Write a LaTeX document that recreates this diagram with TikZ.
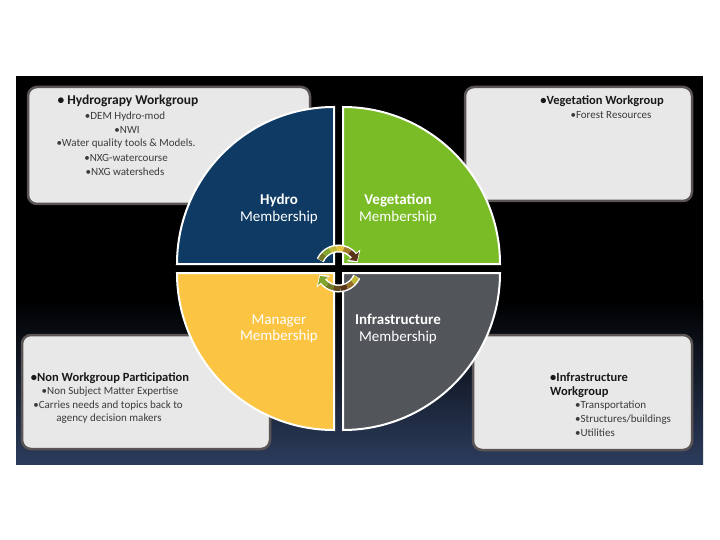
\documentclass[tikz,border=0pt]{standalone}
\usepackage{fontspec}
\setmainfont{Carlito}

\definecolor{hydroblue}{RGB}{14,58,99}
\definecolor{veggreen}{RGB}{122,188,38}
\definecolor{mgryellow}{RGB}{252,196,67}
\definecolor{infragray}{RGB}{82,85,89}
\definecolor{boxfill}{RGB}{232,232,232}
\definecolor{boxline}{RGB}{90,84,84}
\definecolor{bgnavy}{RGB}{44,60,92}
\definecolor{arcgreen}{RGB}{130,165,45}
\definecolor{arcyellow}{RGB}{232,196,64}
\definecolor{arcbrown}{RGB}{90,52,24}
\definecolor{txtdark}{RGB}{25,25,25}

\tikzset{
  wgbox/.style={fill=boxfill, draw=boxline, line width=2.5pt, rounded corners=9pt},
  quad/.style={draw=white, line width=2pt},
  qlabel/.style={text=white, font=\fontsize{15}{16.5}\selectfont, align=center, inner sep=0pt},
  wghead/.style={text=txtdark, font=\fontsize{12.5}{14}\selectfont\bfseries, inner sep=0pt, text height=9pt, text depth=2.5pt},
  wgitem/.style={text=txtdark!85, font=\fontsize{11}{13}\selectfont, inner sep=0pt, text height=8pt, text depth=2.5pt},
  arcseg/.style={line width=5pt},
}

\begin{document}
\begin{tikzpicture}[x=1pt,y=-1pt]
  \useasboundingbox (0,0) rectangle (720,540);
  \fill[white] (0,0) rectangle (720,540);
  \fill[black] (16,76) rectangle (703,464);
  \shade[top color=black, bottom color=bgnavy] (16,300) rectangle (703,464);

  % workgroup boxes
  \draw[wgbox] (28,87) rectangle (310,204);
  \draw[wgbox] (465,87) rectangle (692,201);
  \draw[wgbox] (22,335) rectangle (270,449);
  \draw[wgbox] (473,335) rectangle (692,450);

  \node[wghead, font=\fontsize{13.5}{15}\selectfont\bfseries] (hyhead) at (128,101) {• Hydrograpy Workgroup};
  \node[wgitem] (hy1) at (125,117) {•DEM Hydro-mod};
  \node[wgitem] (hy2) at (127,131) {•NWI};
  \node[wgitem] (hy3) at (126,144) {•Water quality tools \& Models.};
  \node[wgitem] (hy4) at (126,159) {•NXG-watercourse};
  \node[wgitem] (hy5) at (125,173) {•NXG watersheds};

  \node[wghead] (veghead) at (602,101) {•Vegetation Workgroup};
  \node[wgitem] (veg1) at (611,116) {•Forest Resources};

  \node[wghead] (nonhead) at (110,378) {•Non Workgroup Participation};
  \node[wgitem] (non1) at (110,392) {•Non Subject Matter Expertise};
  \node[wgitem] (non2) at (108,406) {•Carries needs and topics back to};
  \node[wgitem] (non3) at (109,419) {agency decision makers};

  \node[wghead, anchor=west] (infhead) at (550,378) {•Infrastructure};
  \node[wghead, anchor=west] (infhead2) at (550,392) {Workgroup};
  \node[wgitem, anchor=west] (inf1) at (575,406) {•Transportation};
  \node[wgitem, anchor=west] (inf2) at (575,420) {•Structures/buildings};
  \node[wgitem, anchor=west] (inf3) at (575,434) {•Utilities};

  % membership circle
  \draw[quad, fill=hydroblue] (334,264) -- (177,264) arc[start angle=180, end angle=270, radius=157] -- cycle;
  \draw[quad, fill=veggreen] (343,264) -- (343,107) arc[start angle=270, end angle=360, radius=157] -- cycle;
  \draw[quad, fill=infragray] (343,273) -- (500,273) arc[start angle=0, end angle=90, radius=157] -- cycle;
  \draw[quad, fill=mgryellow] (334,273) -- (334,430) arc[start angle=90, end angle=180, radius=157] -- cycle;

  \node[qlabel] (hydro) at (279,209) {\textbf{Hydro}\\Membership};
  \node[qlabel] (veg) at (398,209) {\textbf{Vegetation}\\Membership};
  \node[qlabel] (mgr) at (279,329) {Manager\\Membership};
  \node[qlabel] (infra) at (398,329) {\textbf{Infrastructure}\\Membership};

  % cycle arrows
  \coordinate (ctr) at (338.5,268.5);
  \draw[white, line width=8pt] ([shift={(204:20)}]ctr) arc[start angle=204, end angle=322, radius=20];
  \fill[white] ([shift={(319:11)}]ctr) -- ([shift={(319:29)}]ctr) -- ([shift={(342:20)}]ctr) -- cycle;
  \foreach \s/\e/\c in {205/225/arcgreen!60!arcbrown, 225/245/arcgreen, 245/265/arcyellow!60!arcgreen, 265/285/arcyellow, 285/305/arcyellow!50!arcbrown, 305/322/arcbrown}
    \draw[arcseg, draw=\c] ([shift={(\s:20)}]ctr) arc[start angle=\s, end angle=\e, radius=20];
  \fill[arcbrown] ([shift={(321:13.5)}]ctr) -- ([shift={(321:26.5)}]ctr) -- ([shift={(338:20)}]ctr) -- cycle;

  \draw[white, line width=8pt] ([shift={(24:20)}]ctr) arc[start angle=24, end angle=142, radius=20];
  \fill[white] ([shift={(139:11)}]ctr) -- ([shift={(139:29)}]ctr) -- ([shift={(162:20)}]ctr) -- cycle;
  \foreach \s/\e/\c in {25/45/arcyellow!60!arcgreen, 45/65/arcyellow!40!arcbrown, 65/85/arcbrown, 85/105/arcbrown!80!arcgreen, 105/125/arcbrown!40!arcgreen, 125/142/arcgreen}
    \draw[arcseg, draw=\c] ([shift={(\s:20)}]ctr) arc[start angle=\s, end angle=\e, radius=20];
  \fill[arcgreen] ([shift={(141:13.5)}]ctr) -- ([shift={(141:26.5)}]ctr) -- ([shift={(158:20)}]ctr) -- cycle;
\end{tikzpicture}
\end{document}
